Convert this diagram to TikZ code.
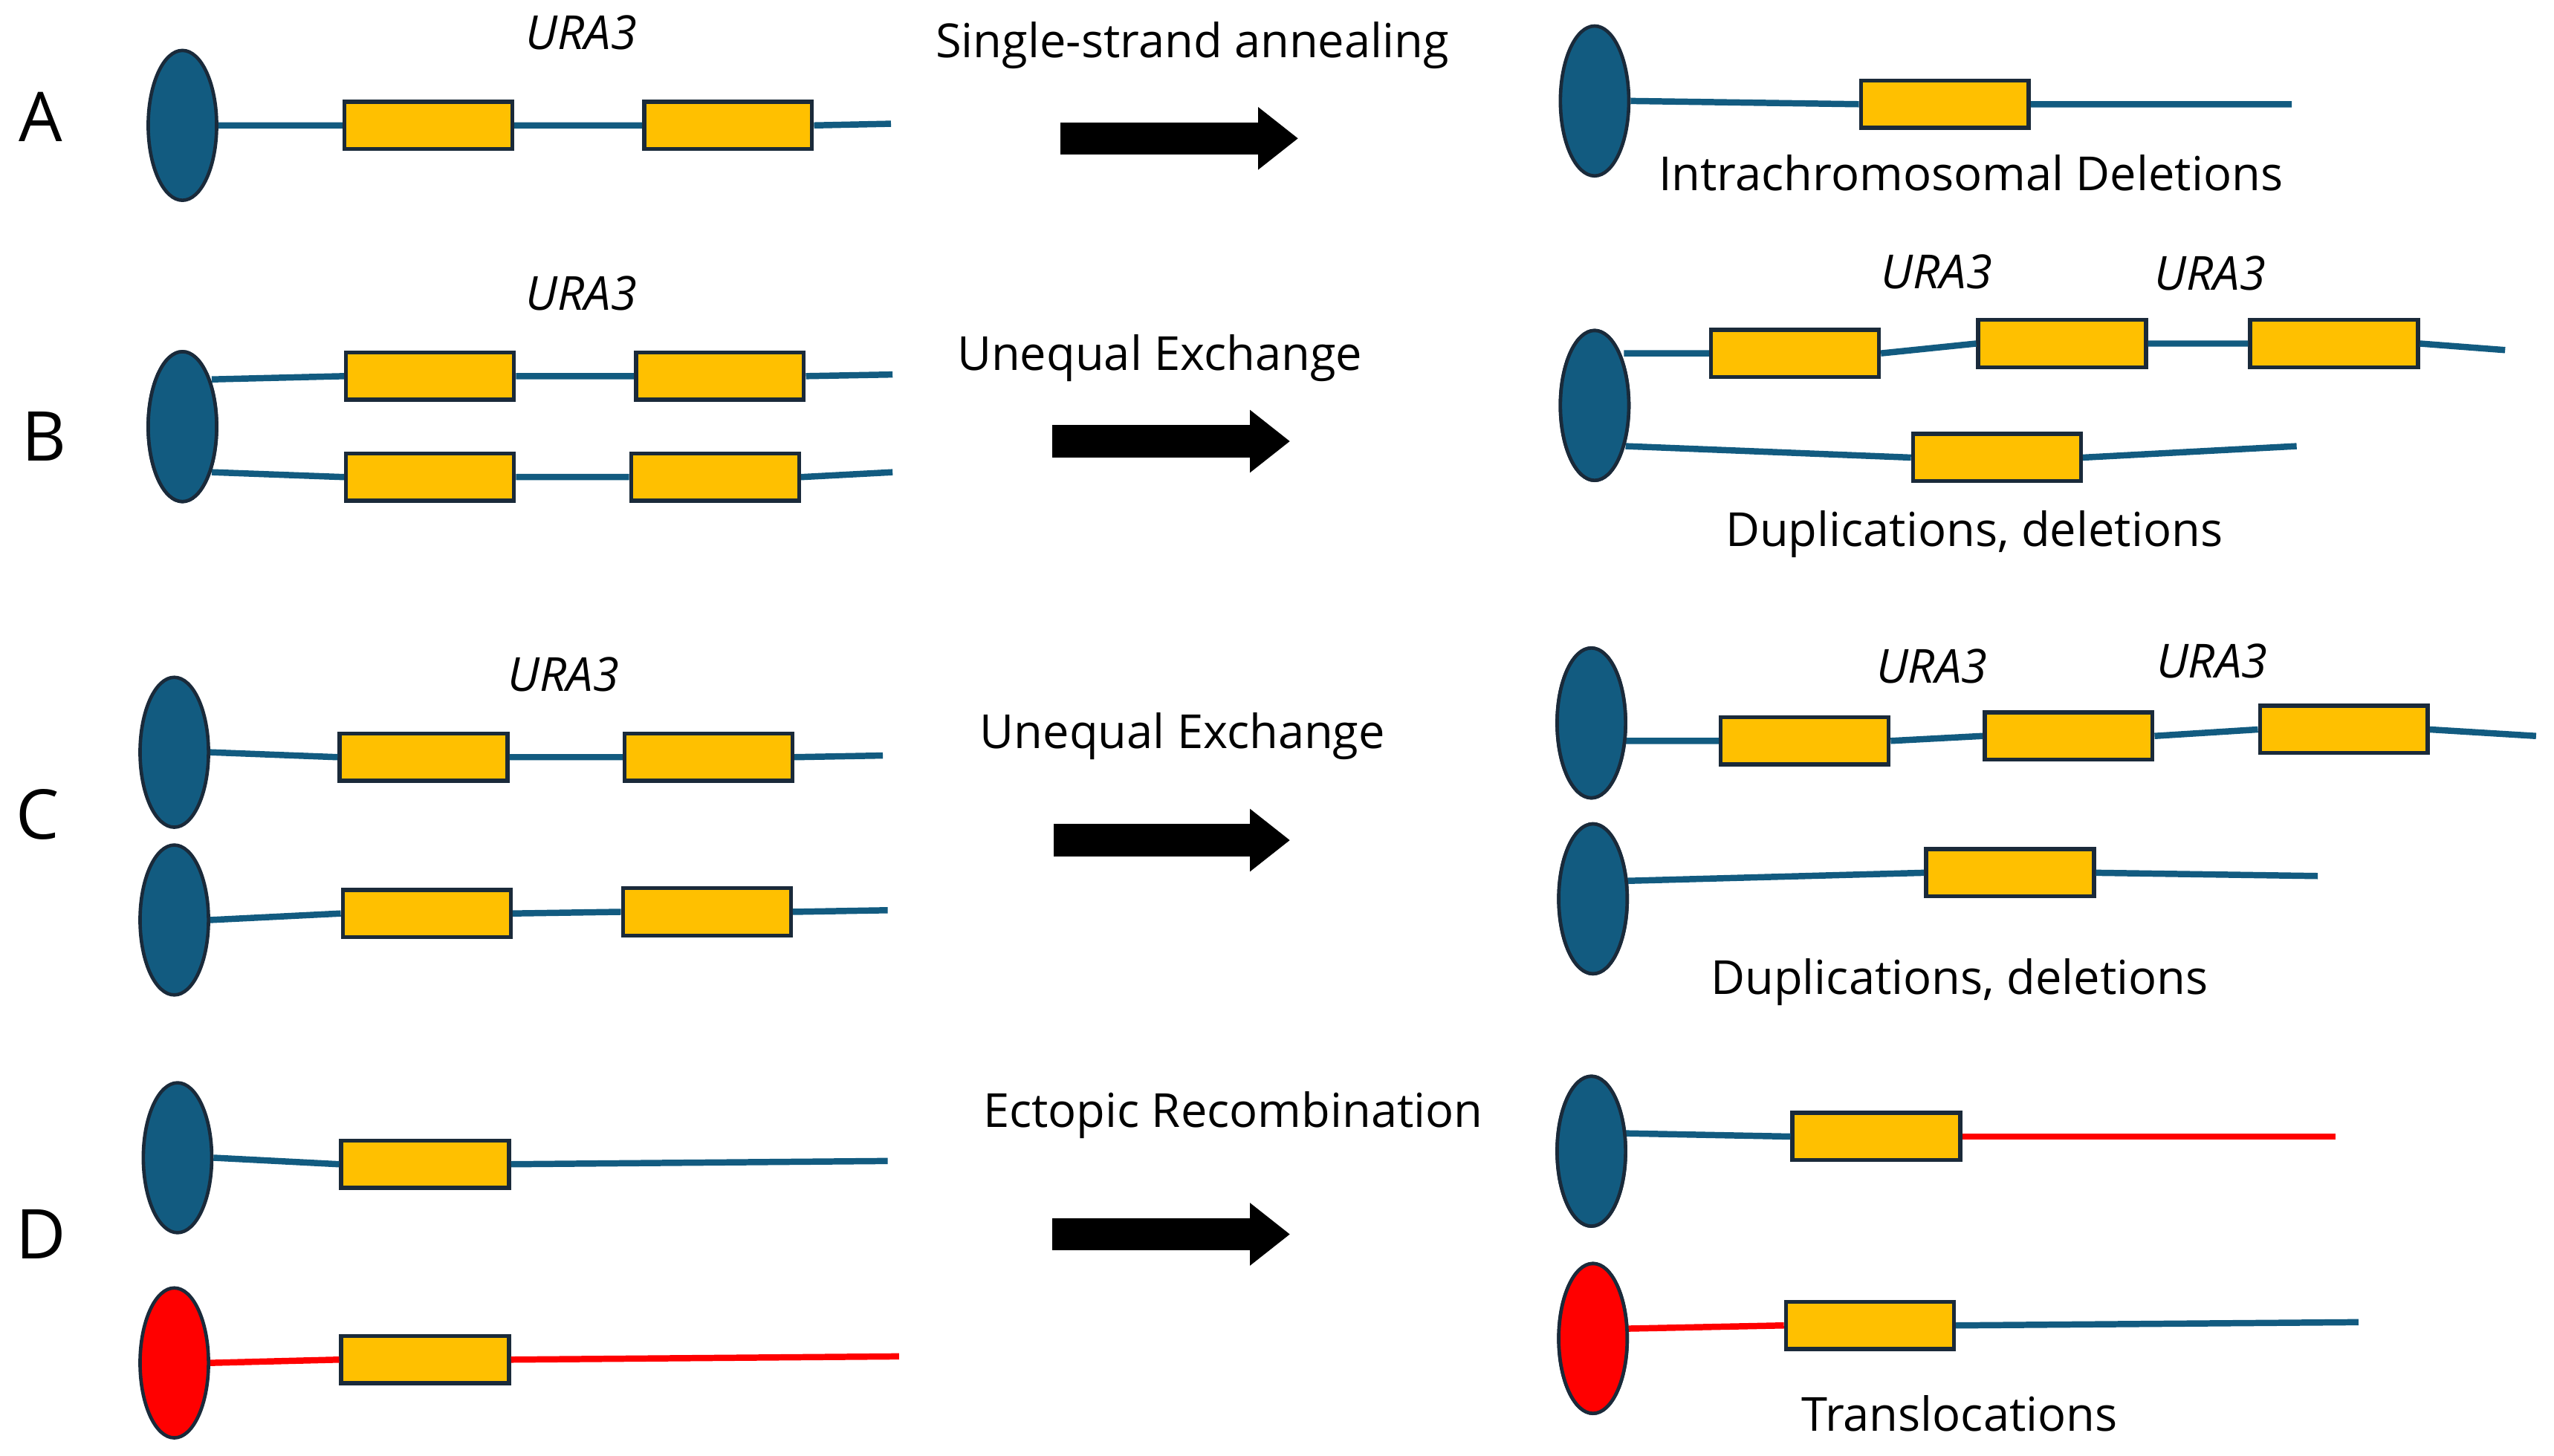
\documentclass[tikz,border=0pt]{standalone}
\usepackage{fontspec}
\setmainfont{Open Sans}
\usetikzlibrary{arrows.meta,shapes.geometric}
\definecolor{chrblue}{HTML}{125B80}
\definecolor{chrred}{HTML}{FF0000}
\definecolor{genefill}{HTML}{FFC000}
\definecolor{edge}{HTML}{1A2A3A}
\tikzset{
  cen/.style={ellipse,draw=edge,line width=0.6pt,fill=chrblue,minimum width=0.42cm,minimum height=0.92cm,inner sep=0pt},
  cenred/.style={cen,fill=chrred},
  gene/.style={draw=edge,line width=0.7pt,fill=genefill,minimum width=1.03cm,minimum height=0.29cm,inner sep=0pt},
  bl/.style={draw=chrblue,line width=1.1pt},
  rl/.style={draw=chrred,line width=1.1pt},
  lbl/.style={font=\fontsize{8.2}{10}\selectfont,inner sep=0pt},
  ura/.style={font=\fontsize{8.2}{10}\selectfont\itshape,inner sep=0pt},
  big/.style={font=\fontsize{12}{14}\selectfont,inner sep=0pt},
  bigarrow/.style={line width=5.6pt,-{Triangle[length=7pt,width=10.5pt]}}
}
\begin{document}
\begin{tikzpicture}[x=0.01cm,y=-0.01cm]
\useasboundingbox (0,0) rectangle (1568,894);
% ---------- A
\node[big] (lA) at (25,72) {A};
\node[ura] (uA) at (357,20) {URA3};
\node[cen] (a0) at (112,77) {};
\node[gene] (a1) at (263,77) {};
\node[gene] (a2) at (447,77) {};
\coordinate (aE) at (547,76);
\draw[bl] (a0.east) -- (a1.west) (a1.east) -- (a2.west) (a2.east) -- (aE);
\coordinate (arA1) at (651,85); \coordinate (arA2) at (797,85);
\draw[bigarrow] (arA1) -- (arA2);
\node[lbl] (tA) at (732,28) {Single-strand annealing};
\node[cen] (ra0) at (979,62) {};
\node[gene] (ra1) at (1194,64) {};
\coordinate (raE) at (1407,64);
\draw[bl] (ra0.east) -- (ra1.west) (ra1.east) -- (raE);
\node[lbl] (tA2) at (1210,106) {Intrachromosomal Deletions};
% ---------- B
\node[big] (lB) at (27,268) {B};
\node[ura] (uB) at (357,180) {URA3};
\node[cen] (b0) at (112,262) {};
\node[gene] (b1) at (264,231) {};
\node[gene] (b2) at (442,231) {};
\coordinate (b0t) at (130,233); \coordinate (bE) at (548,230);
\draw[bl] (b0t) -- (b1.west) (b1.east) -- (b2.west) (b2.east) -- (bE);
\node[gene] (b3) at (264,293) {};
\node[gene] (b4) at (439,293) {};
\coordinate (b0b) at (130,290); \coordinate (bE2) at (548,290);
\draw[bl] (b0b) -- (b3.west) (b3.east) -- (b4.west) (b4.east) -- (bE2);
\node[cen] at (112,262) {};
\coordinate (arB1) at (646,271); \coordinate (arB2) at (792,271);
\draw[bigarrow] (arB1) -- (arB2);
\node[lbl] (tB) at (712,220) {Unequal Exchange};
\node[cen] (rb0) at (979,249) {};
\node[gene] (rb1) at (1102,217) {};
\node[gene] (rb2) at (1266,211) {};
\node[gene] (rb3) at (1433,211) {};
\coordinate (rb0t) at (997,217); \coordinate (rbE) at (1538,215);
\draw[bl] (rb0t) -- (rb1.west) (rb1.east) -- (rb2.west) (rb2.east) -- (rb3.west) (rb3.east) -- (rbE);
\node[gene] (rb4) at (1226,281) {};
\coordinate (rb0b) at (998,274); \coordinate (rbE2) at (1410,274);
\draw[bl] (rb0b) -- (rb4.west) (rb4.east) -- (rbE2);
\node[cen] at (979,249) {};
\node[ura] (uB2) at (1189,167) {URA3};
\node[ura] (uB3) at (1357,168) {URA3};
\node[lbl] (tB2) at (1212,328) {Duplications, deletions};
% ---------- C
\node[big] (lC) at (23,500) {C};
\node[ura] (uC) at (346,414) {URA3};
\node[cen] (c0) at (107,462) {};
\node[gene] (c1) at (260,465) {};
\node[gene] (c2) at (435,465) {};
\coordinate (cE) at (542,464);
\draw[bl] (c0.east) -- (c1.west) (c1.east) -- (c2.west) (c2.east) -- (cE);
\node[cen] (c3) at (107,565) {};
\node[gene] (c4) at (262,561) {};
\node[gene] (c5) at (434,560) {};
\coordinate (cE2) at (545,559);
\draw[bl] (c3.east) -- (c4.west) (c4.east) -- (c5.west) (c5.east) -- (cE2);
\coordinate (arC1) at (647,516); \coordinate (arC2) at (792,516);
\draw[bigarrow] (arC1) -- (arC2);
\node[lbl] (tC) at (726,452) {Unequal Exchange};
\node[cen] (rc0) at (977,444) {};
\node[gene] (rc1) at (1108,455) {};
\node[gene] (rc2) at (1270,452) {};
\node[gene] (rc3) at (1439,448) {};
\coordinate (rc0t) at (998,455); \coordinate (rcE) at (1557,452);
\draw[bl] (rc0t) -- (rc1.west) (rc1.east) -- (rc2.west) (rc2.east) -- (rc3.west) (rc3.east) -- (rcE);
\node[cen] at (977,444) {};
\node[cen] (rc4) at (978,552) {};
\node[gene] (rc5) at (1234,536) {};
\coordinate (rc4e) at (998,541); \coordinate (rcE2) at (1423,538);
\draw[bl] (rc4e) -- (rc5.west) (rc5.east) -- (rcE2);
\node[cen] at (978,552) {};
\node[ura] (uC2) at (1186,409) {URA3};
\node[ura] (uC3) at (1358,406) {URA3};
\node[lbl] (tC2) at (1203,603) {Duplications, deletions};
% ---------- D
\node[big] (lD) at (25,758) {D};
\node[cen] (d0) at (109,711) {};
\node[gene] (d1) at (261,715) {};
\coordinate (dE) at (545,713);
\draw[bl] (d0.east) -- (d1.west) (d1.east) -- (dE);
\node[cenred] (d2) at (107,837) {};
\node[gene] (d3) at (261,835) {};
\coordinate (dE2) at (552,833);
\draw[rl] (d2.east) -- (d3.west) (d3.east) -- (dE2);
\coordinate (arD1) at (646,758); \coordinate (arD2) at (792,758);
\draw[bigarrow] (arD1) -- (arD2);
\node[lbl] (tD) at (757,685) {Ectopic Recombination};
\node[cen] (rd0) at (977,707) {};
\node[gene] (rd1) at (1152,698) {};
\coordinate (rd0e) at (997,696); \coordinate (rdE) at (1434,698);
\draw[bl] (rd0e) -- (rd1.west);
\draw[rl] (rd1.east) -- (rdE);
\node[cen] at (977,707) {};
\node[cenred] (rd2) at (978,822) {};
\node[gene] (rd3) at (1148,814) {};
\coordinate (rd2e) at (998,816); \coordinate (rdE2) at (1448,812);
\draw[rl] (rd2e) -- (rd3.west);
\draw[bl] (rd3.east) -- (rdE2);
\node[cenred] at (978,822) {};
\node[lbl] (tD2) at (1203,868) {Translocations};
\end{tikzpicture}
\end{document}
